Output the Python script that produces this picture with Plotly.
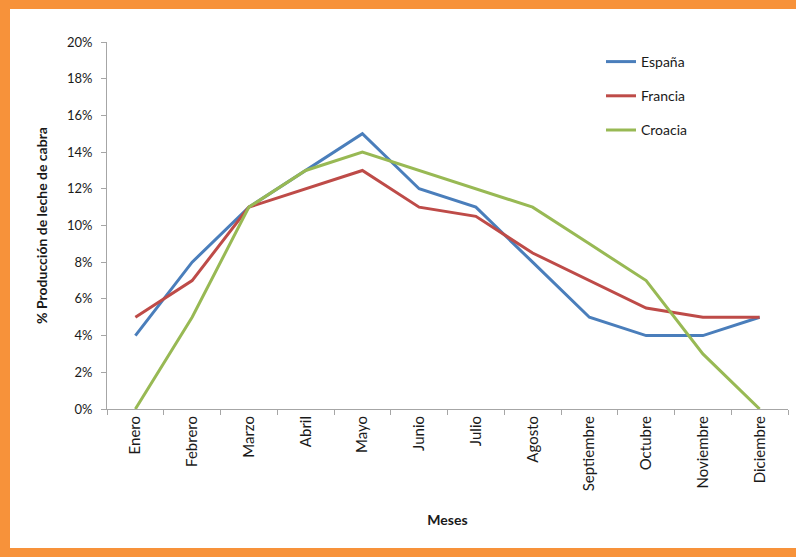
import plotly.graph_objects as go

meses = ["Enero", "Febrero", "Marzo", "Abril", "Mayo", "Junio", "Julio",
         "Agosto", "Septiembre", "Octubre", "Noviembre", "Diciembre"]
espana = [4, 8, 11, 13, 15, 12, 11, 8, 5, 4, 4, 5]
francia = [5, 7, 11, 12, 13, 11, 10.5, 8.5, 7, 5.5, 5, 5]
croacia = [0, 5, 11, 13, 14, 13, 12, 11, 9, 7, 3, 0]
y_ticks = [0, 2, 4, 6, 8, 10, 12, 14, 16, 18, 20]

series = [("España", espana, "#4A7EBB"),
          ("Francia", francia, "#BE4B48"),
          ("Croacia", croacia, "#98B954")]

W, H = 796, 557
ML, MR, MT, MB = 107, 8, 42, 148
FONT = "Lato, 'Open Sans', sans-serif"
ORANGE = "#F7923A"
TXT = "#1A1A1A"

fig = go.Figure()
for i, (name, vals, color) in enumerate(series):
    fig.add_trace(go.Scatter(
        x=meses, y=vals, name=name, mode="lines",
        line=dict(color=color, width=3),
        legendgroup=f"g{i}",
    ))

# frame around the chart, positioned in pixels
pw, ph = W - ML - MR, H - MT - MB
def px(x):
    return (x - ML) / pw
def py(y):
    return (H - MB - y) / ph

frame = [(0, 0, W, 9), (0, 0, 10, H), (0, 548, W, H)]
shapes = [dict(type="rect", xref="paper", yref="paper",
               x0=px(a), x1=px(c), y0=py(b), y1=py(d),
               fillcolor=ORANGE, line=dict(width=0), layer="below")
          for a, b, c, d in frame]

axis_line = "#A6A6A6"
fig.update_layout(
    width=W, height=H,
    margin=dict(l=ML, r=MR, t=MT, b=MB),
    paper_bgcolor="white", plot_bgcolor="white",
    font=dict(family=FONT, size=12, color=TXT),
    shapes=shapes,
    showlegend=True,
    legend=dict(x=px(601), y=py(46), xanchor="left", yanchor="top",
                font=dict(size=14, color=TXT),
                tracegroupgap=13, itemwidth=30,
                bgcolor="rgba(0,0,0,0)"),
    xaxis=dict(
        type="category", tickangle=-90, showgrid=False,
        showline=True, linecolor=axis_line, linewidth=1,
        ticks="outside", tickson="boundaries", ticklen=5, tickcolor=axis_line,
        tickfont=dict(size=15, color=TXT),
        title=dict(text="<b>Meses</b>", font=dict(size=14, color=TXT), standoff=24),
        range=[-0.5, 11.5],
    ),
    yaxis=dict(
        range=[0, 20], tickvals=y_ticks,
        ticktext=[f"{v}%" for v in y_ticks],
        showgrid=False, zeroline=False,
        showline=True, linecolor=axis_line, linewidth=1,
        ticks="outside", ticklen=5, tickcolor=axis_line,
        ticklabelstandoff=6,
        tickfont=dict(size=13, color=TXT),
        title=dict(text="<b>% Producción de leche de cabra</b>",
                   font=dict(size=14, color=TXT), standoff=16),
    ),
)

fig.write_html("out.html")
